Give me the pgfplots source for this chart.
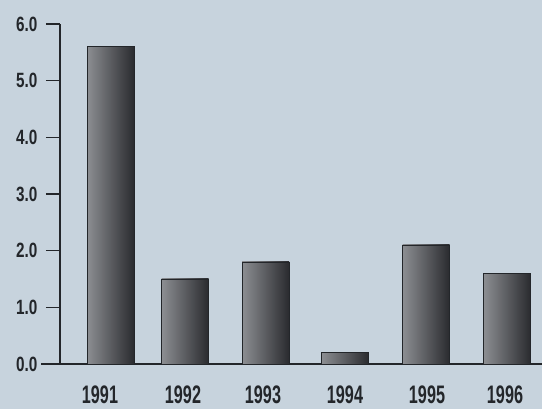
\documentclass[border=0pt]{standalone}
\usepackage{pgfplots}
\pgfplotsset{compat=1.18}
\usepackage{fontspec}
\setmainfont{Liberation Sans}
\newfontfamily\labfont{Liberation Sans}[FakeStretch=0.74]
\newfontfamily\yearfont{Liberation Sans}[FakeStretch=0.64]
\definecolor{bgcol}{RGB}{199,211,221}
\definecolor{inkcol}{RGB}{35,38,42}
\definecolor{barlight}{RGB}{140,142,146}
\definecolor{bardark}{RGB}{42,43,47}

\begin{document}
\begin{tikzpicture}
% page background (542 x 409 px, 1px = 0.75pt)
\fill[bgcol] (0,0) rectangle (406.5pt,306.75pt);
\useasboundingbox (0,0) rectangle (406.5pt,306.75pt);
\begin{axis}[
  at={(45pt,33.75pt)}, anchor=south west,
  scale only axis, width=361.5pt, height=255pt,
  xmin=0, xmax=482, ymin=0, ymax=6,
  axis x line=bottom, axis y line=left,
  axis line style={inkcol, line width=1pt, -},
  x axis line style={shorten <=-14.25pt},
  ytick={0,1,2,3,4,5,6},
  tick align=outside,
  major tick length=10.5pt,
  ytick style={inkcol, line width=1pt},
  yticklabel style={font=\labfont\bfseries\fontsize{15.5}{17}\selectfont, text=inkcol, xshift=-3pt,
    /pgf/number format/.cd, fixed, fixed zerofill, precision=1, assume math mode=true},
  xtick={40,123,203,285,367,445},
  xticklabels={1991,1992,1993,1994,1995,1996},
  xtick style={draw=none},
  xticklabel style={font=\yearfont\bfseries\fontsize{19}{21}\selectfont, text=inkcol, yshift=-2pt},
  clip=false,
  gdpbar/.style={ybar, bar width=47, bar shift=0pt, draw=inkcol, line width=0.5pt,
    left color=barlight, right color=bardark},
]
% one plot per bar, so each bar gets its own shading
\addplot[gdpbar] coordinates {(50.5,5.6)};
\addplot[gdpbar] coordinates {(125,1.5)};
\addplot[gdpbar] coordinates {(205.5,1.8)};
\addplot[gdpbar] coordinates {(285,0.2)};
\addplot[gdpbar] coordinates {(366,2.1)};
\addplot[gdpbar] coordinates {(447,1.6)};
\end{axis}
\end{tikzpicture}
\end{document}
